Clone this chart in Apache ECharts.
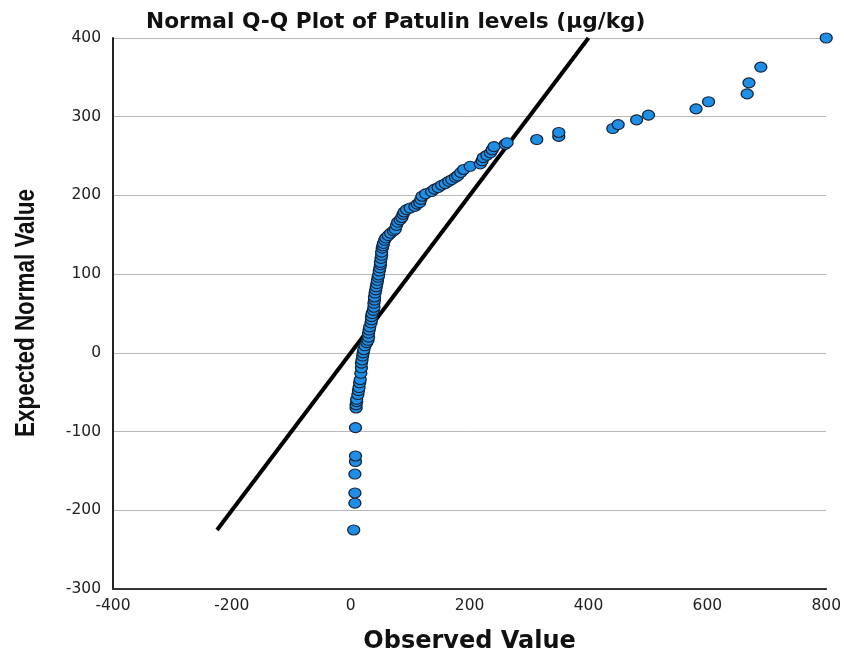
<!DOCTYPE html>
<html>
<head>
<meta charset="utf-8">
<script src="https://cdn.jsdelivr.net/npm/echarts@6/dist/echarts.min.js"></script>
<style>html,body{margin:0;padding:0;background:#fff;}#chart{width:844px;height:659px;}</style>
</head>
<body>
<div id="chart"></div>
<script>
const titleText = 'Normal Q-Q Plot of Patulin levels (\u00b5g/kg)';
const xAxisName = 'Observed Value';
const yAxisName = 'Expected Normal Value';
const xTicks = { min: -400, max: 800, interval: 200 };
const yTicks = { min: -300, max: 400, interval: 100 };

const observed = [5, 7, 7, 7, 8, 8, 8, 9, 9, 10, 10, 12, 13, 14, 15, 16, 17, 18, 18, 19, 20, 21, 22, 24, 27, 29, 30, 30, 31, 32, 34, 35, 35, 36, 38, 39, 39, 40, 40, 41, 42, 43, 44, 45, 46, 47, 48, 49, 50, 50, 51, 52, 52, 53, 54, 55, 57, 59, 63, 67, 72, 75, 77, 79, 83, 86, 88, 90, 94, 100, 108, 112, 116, 118, 120, 126, 136, 141, 147, 153, 159, 165, 170, 176, 180, 185, 190, 201, 218, 221, 223, 229, 235, 238, 241, 260, 263, 313, 350, 350, 441, 450, 481, 501, 581, 602, 667, 670, 690, 800];
const expected = [-225, -191, -178, -154, -138, -131, -95, -70, -66, -62, -59, -53, -48, -44, -38, -34, -26, -19, -13, -9, -4, 0, 4, 9, 13, 16, 20, 25, 29, 33, 38, 42, 46, 50, 54, 58, 63, 67, 71, 76, 80, 84, 88, 92, 96, 99, 104, 108, 112, 115, 120, 124, 128, 133, 136, 139, 143, 146, 149, 152, 155, 157, 162, 166, 169, 172, 176, 179, 182, 184, 186, 189, 191, 195, 199, 202, 205, 208, 210, 213, 215, 218, 220, 223, 225, 229, 233, 237, 240, 244, 248, 251, 254, 258, 262, 265, 267, 271, 275, 280, 285, 290, 296, 302, 310, 319, 329, 343, 363, 400];

const refLineX = [-225, 400];
const refLineY = [-225, 400];

const points = observed.map((v, i) => [v, expected[i]]);
const refLine = refLineX.map((v, i) => [v, refLineY[i]]);

const chart = echarts.init(document.getElementById('chart'));
chart.setOption({
  backgroundColor: '#ffffff',
  animation: false,
  title: {
    text: titleText,
    left: 141,
    top: 6,
    textStyle: { fontFamily: 'DejaVu Sans', fontWeight: 'bold', fontSize: 21.7, color: '#111' }
  },
  graphic: [
    {
      type: 'text',
      x: 27,
      y: 313,
      rotation: Math.PI / 2,
      scaleX: 0.83,
      scaleY: 1,
      style: {
        text: yAxisName,
        fontFamily: 'Liberation Sans',
        fontWeight: 'bold',
        fontSize: 27,
        fill: '#111',
        align: 'center',
        verticalAlign: 'middle'
      }
    }
  ],
  grid: { left: 113, right: 15, top: 38, bottom: 62, containLabel: false },
  xAxis: {
    type: 'value',
    min: xTicks.min, max: xTicks.max, interval: xTicks.interval,
    name: xAxisName,
    nameLocation: 'middle',
    nameGap: 41,
    nameTextStyle: { fontFamily: 'DejaVu Sans', fontWeight: 'bold', fontSize: 24, color: '#111' },
    axisLine: { show: true, onZero: false, lineStyle: { color: '#333', width: 2 } },
    axisTick: { show: false },
    splitLine: { show: false },
    axisLabel: { fontFamily: 'DejaVu Sans', fontSize: 15.5, color: '#222', margin: 9 }
  },
  yAxis: {
    type: 'value',
    min: yTicks.min, max: yTicks.max, interval: yTicks.interval,
    axisLine: { show: true, onZero: false, lineStyle: { color: '#222', width: 2 } },
    axisTick: { show: false },
    splitLine: { show: true, lineStyle: { color: '#b8b8b8', width: 1 } },
    axisLabel: { fontFamily: 'DejaVu Sans', fontSize: 15.5, color: '#222', margin: 12 }
  },
  series: [
    {
      type: 'line',
      data: refLine,
      symbol: 'none',
      lineStyle: { color: '#000', width: 4 },
      z: 2,
      clip: true
    },
    {
      type: 'scatter',
      data: points,
      symbol: 'circle',
      symbolSize: [12, 10],
      itemStyle: { color: '#1f8fe5', borderColor: '#16233a', borderWidth: 1.2, opacity: 1 },
      z: 3,
      clip: false
    }
  ]
});
</script>
</body>
</html>
